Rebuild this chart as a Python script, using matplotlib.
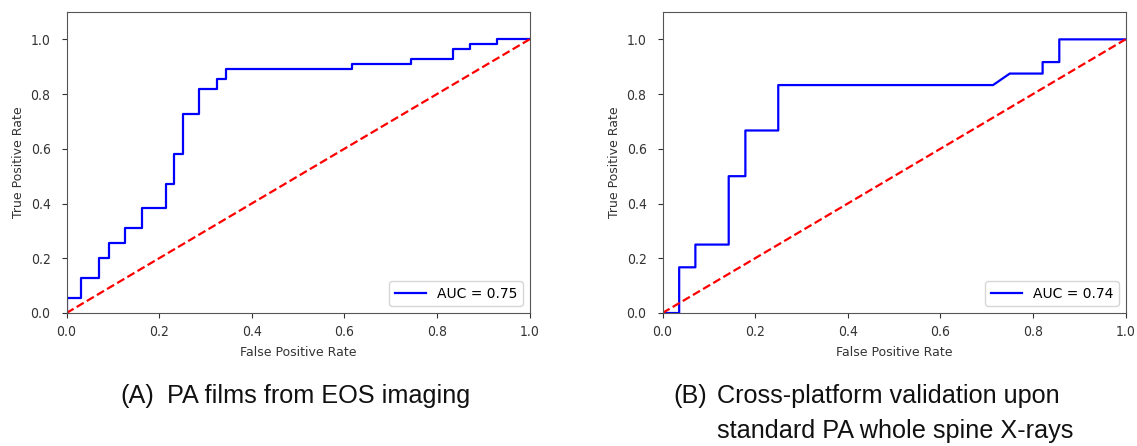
import numpy as np
import matplotlib.pyplot as plt

# ROC curve A: PA films from EOS imaging
fpr_a = [0.0, 0.0, 0.032, 0.032, 0.070, 0.070, 0.091, 0.091, 0.126, 0.126, 0.163, 0.163,
         0.215, 0.215, 0.233, 0.233, 0.251, 0.251, 0.287, 0.287, 0.326, 0.326, 0.345, 0.345,
         0.616, 0.616, 0.745, 0.745, 0.834, 0.834, 0.871, 0.871, 0.929, 0.929, 1.0]
tpr_a = [0.0, 0.055, 0.055, 0.127, 0.127, 0.200, 0.200, 0.255, 0.255, 0.309, 0.309, 0.382,
         0.382, 0.473, 0.473, 0.582, 0.582, 0.727, 0.727, 0.818, 0.818, 0.855, 0.855, 0.891,
         0.891, 0.909, 0.909, 0.927, 0.927, 0.964, 0.964, 0.982, 0.982, 1.0, 1.0]

# ROC curve B: cross-platform validation
fpr_b = [0.0, 0.036, 0.036, 0.071, 0.071, 0.143, 0.143, 0.179, 0.179, 0.25, 0.25,
         0.714, 0.75, 0.821, 0.821, 0.857, 0.857, 1.0]
tpr_b = [0.0, 0.0, 0.167, 0.167, 0.25, 0.25, 0.5, 0.5, 0.667, 0.667, 0.833,
         0.833, 0.875, 0.875, 0.917, 0.917, 1.0, 1.0]

auc_a = 0.75
auc_b = 0.74

W, H = 1137, 446
fig = plt.figure(figsize=(W / 100, H / 100), dpi=100)


def px_axes(left, right, top, bottom):
    return fig.add_axes([left / W, 1 - bottom / H, (right - left) / W, (bottom - top) / H])


def roc_panel(ax, fpr, tpr, auc):
    ax.plot(fpr, tpr, color='b', linewidth=1.6, label='AUC = %0.2f' % auc)
    ax.plot([0, 1], [0, 1], color='r', linestyle='--', linewidth=1.6)
    ax.set_xlim(0, 1)
    ax.set_ylim(0, 1.1)
    ax.set_xticks([0, 0.2, 0.4, 0.6, 0.8, 1.0])
    ax.set_yticks([0, 0.2, 0.4, 0.6, 0.8, 1.0])
    ax.tick_params(labelsize=10, colors='#333333')
    ax.tick_params(axis='x', pad=5)
    ax.tick_params(axis='y', pad=8)
    for lab in ax.get_xticklabels() + ax.get_yticklabels():
        lab.set_fontstretch('condensed')
    for s in ax.spines.values():
        s.set_color('#555555')
    ax.set_xlabel('False Positive Rate', fontsize=9, color='#333333', labelpad=5)
    ax.set_ylabel('True Positive Rate', fontsize=9, color='#333333', labelpad=4)
    ax.legend(loc='lower right', fontsize=10, handlelength=2.2)


ax1 = px_axes(66.5, 529.5, 12, 313)
roc_panel(ax1, fpr_a, tpr_a, auc_a)

ax2 = px_axes(662.5, 1125.5, 12, 313)
roc_panel(ax2, fpr_b, tpr_b, auc_b)

cap = dict(family='Liberation Sans', fontsize=18.2, color='#111111', va='baseline')
fig.text(120 / W, 1 - 403 / H, '(A)', **cap)
fig.text(167 / W, 1 - 403 / H, 'PA films from EOS imaging', **cap)
fig.text(673 / W, 1 - 403 / H, '(B)', **cap)
fig.text(717 / W, 1 - 403 / H, 'Cross-platform validation upon', **cap)
fig.text(717 / W, 1 - 438 / H, 'standard PA whole spine X-rays', **cap)

fig.savefig('out.png', dpi=100)
